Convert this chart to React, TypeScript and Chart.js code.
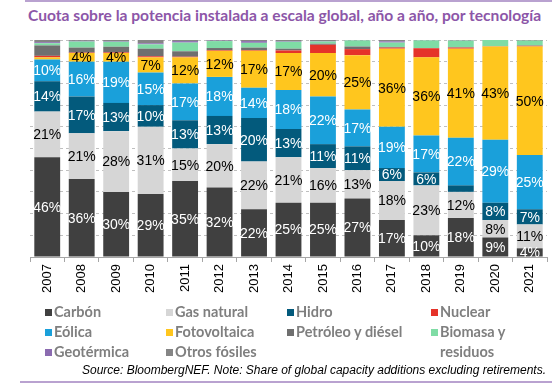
import React, { useEffect, useRef } from "react";
import { Chart, registerables } from "chart.js";

Chart.register(...registerables);

const years = ["2007", "2008", "2009", "2010", "2011", "2012", "2013", "2014", "2015", "2016", "2017", "2018", "2019", "2020", "2021"];
const carbon = [46, 36, 30, 29, 35, 32, 22, 25, 25, 27, 17, 10, 18, 9, 4];
const gas = [21, 21, 28, 31, 15, 20, 22, 21, 16, 13, 18, 23, 12, 8, 11];
const hidro = [14, 17, 13, 10, 13, 13, 20, 13, 11, 11, 6, 6, 3, 8, 7];
const eolica = [10, 16, 19, 15, 17, 18, 14, 18, 22, 17, 19, 17, 22, 29, 25];
const solar = [1, 4, 4, 7, 12, 12, 17, 17, 20, 25, 36, 36, 41, 43, 50];
const nuclear = [0.7, 0.2, 0.3, 0.5, 0.3, 0.3, 0.3, 1.2, 3.8, 2.8, 0.5, 4.2, 0.5, 0.1, 0.3];
const petroleo = [4.8, 2.3, 2.6, 3.5, 2.5, 1, 1.2, 0.8, 0.5, 1.2, 0.3, 0.1, 0.2, 0.1, 0.2];
const biomasa = [1, 2.8, 2.3, 2, 4, 3.2, 2.2, 3.2, 1, 2.8, 2, 3.5, 3, 2.8, 2.2];
const geotermica = [0.5, 0.3, 0.3, 0.5, 0.7, 0.2, 0.8, 0.3, 0.2, 0.1, 0.6, 0.1, 0.1, 0, 0];
const otros = [1, 0.4, 0.5, 1.5, 0.5, 0.3, 0.5, 0.5, 0.5, 0.1, 0.6, 0.1, 0.2, 0, 0.3];

const C = {
  carbon: "#404040",
  gas: "#D6D6D6",
  hidro: "#035A7C",
  eolica: "#1AA0DA",
  solar: "#FFC61E",
  nuclear: "#E5332A",
  petroleo: "#6F6F6F",
  biomasa: "#7FDCA5",
  geo: "#8B6BB0",
  otros: "#858585",
};

const legendItems = [
  { label: "Carbón", color: C.carbon, x: 45, y: 312 },
  { label: "Gas natural", color: C.gas, x: 166, y: 312 },
  { label: "Hidro", color: C.hidro, x: 287, y: 312 },
  { label: "Nuclear", color: C.nuclear, x: 431, y: 312 },
  { label: "Eólica", color: C.eolica, x: 45, y: 332 },
  { label: "Fotovoltaica", color: C.solar, x: 166, y: 332 },
  { label: "Petróleo y diésel", color: C.petroleo, x: 287, y: 332 },
  { label: "Biomasa y", label2: "residuos", color: C.biomasa, x: 431, y: 332 },
  { label: "Geotérmica", color: C.geo, x: 45, y: 352 },
  { label: "Otros fósiles", color: C.otros, x: 166, y: 352 },
];

const labelPlugin = {
  id: "segLabels",
  afterDatasetsDraw(chart: any) {
    const ctx = chart.ctx;
    ctx.save();
    ctx.font = "14px 'Liberation Sans', Arial, sans-serif";
    ctx.textAlign = "center";
    ctx.textBaseline = "middle";
    chart.data.datasets.forEach((ds: any, i: number) => {
      if (!ds.showLabels) return;
      const meta = chart.getDatasetMeta(i);
      meta.data.forEach((el: any, j: number) => {
        const v = ds.data[j];
        if (Math.round(v) < 4) return;
        const cy = (el.y + el.base) / 2;
        ctx.fillStyle = ds.labelColor;
        ctx.fillText(Math.round(v) + "%", el.x, cy + 1);
      });
    });
    ctx.restore();
  },
};

export default function App() {
  const ref = useRef<HTMLCanvasElement | null>(null);
  useEffect(() => {
    if (!ref.current) return;
    const mk = (label: string, data: number[], color: string, showLabels = false, labelColor = "#000") => ({
      label,
      data,
      backgroundColor: color,
      borderWidth: 0,
      showLabels,
      labelColor,
      stack: "s",
    });
    const chart = new Chart(ref.current, {
      type: "bar",
      data: {
        labels: years,
        datasets: [
          mk("Carbón", carbon, C.carbon, true, "#FFFFFF"),
          mk("Gas natural", gas, C.gas, true, "#000000"),
          mk("Hidro", hidro, C.hidro, true, "#FFFFFF"),
          mk("Eólica", eolica, C.eolica, true, "#FFFFFF"),
          mk("Fotovoltaica", solar, C.solar, true, "#000000"),
          mk("Nuclear", nuclear, C.nuclear),
          mk("Petróleo y diésel", petroleo, C.petroleo),
          mk("Biomasa y residuos", biomasa, C.biomasa),
          mk("Geotérmica", geotermica, C.geo),
          mk("Otros fósiles", otros, C.otros),
        ] as any,
      },
      options: {
        animation: false,
        responsive: false,
        maintainAspectRatio: false,
        layout: { padding: { left: 30, right: 5, top: 40, bottom: 3 } },
        datasets: { bar: { categoryPercentage: 1, barPercentage: 0.75 } },
        plugins: {
          legend: { display: false },
          tooltip: { enabled: false },
          title: { display: false },
        },
        scales: {
          x: {
            stacked: true,
            offset: true,
            grid: { display: true, drawOnChartArea: false, drawTicks: true, tickLength: 5, color: "#A6A6A6", offset: true },
            border: { display: true, color: "#A6A6A6" },
            ticks: {
              minRotation: 90,
              maxRotation: 90,
              color: "#000000",
              font: { family: "'Liberation Sans', Arial, sans-serif", size: 13 },
              padding: 2,
            },
            afterFit: (axis: any) => {
              axis.height = 50;
            },
          },
          y: {
            stacked: true,
            min: 0,
            max: 100,
            display: true,
            ticks: { display: false, stepSize: 10 },
            grid: { color: "#BFBFBF", drawTicks: false },
            border: { display: false, dash: [3, 3] },
            afterFit: (axis: any) => {
              axis.width = 0;
            },
          },
        },
      } as any,
      plugins: [labelPlugin],
    });
    return () => chart.destroy();
  }, []);

  return (
    <div style={{ position: "fixed", left: 0, top: 0, width: 552, height: 389, background: "#fff", overflow: "hidden" }}>
      <div style={{ position: "absolute", left: 25, right: 0, top: 0, height: 2, background: "#B9A2D0" }} />
      <div
        style={{
          position: "absolute",
          left: 28,
          top: 6,
          whiteSpace: "nowrap",
          fontFamily: "Lato, 'Noto Sans', sans-serif",
          fontWeight: 700,
          fontSize: 15.6,
          color: "#8C56A8",
        }}
      >
        Cuota sobre la potencia instalada a escala global, año a año, por tecnología
      </div>
      <canvas ref={ref} width={552} height={310} style={{ position: "absolute", left: 0, top: 0, width: 552, height: 310 }} />
      {legendItems.map((it) => (
        <div key={it.label}>
          <div style={{ position: "absolute", left: it.x, top: it.y - 3, width: 7, height: 7, background: it.color }} />
          <div
            style={{
              position: "absolute",
              left: it.x + 9,
              top: it.y - 10,
              whiteSpace: "nowrap",
              fontFamily: "Lato, 'Noto Sans', sans-serif",
              fontWeight: 700,
              fontSize: 14.5,
              lineHeight: "20px",
              color: "#7F7F7F",
            }}
          >
            {it.label}
            {it.label2 ? <div>{it.label2}</div> : null}
          </div>
        </div>
      ))}
      <div
        style={{
          position: "absolute",
          right: 6,
          top: 363,
          whiteSpace: "nowrap",
          fontFamily: "'Liberation Sans', Arial, sans-serif",
          fontStyle: "italic",
          fontSize: 12,
          color: "#000",
        }}
      >
        Source: BloombergNEF. Note: Share of global capacity additions excluding retirements.
      </div>
      <div style={{ position: "absolute", left: 20, right: 0, top: 381, height: 2, background: "#B9A2D0" }} />
    </div>
  );
}
